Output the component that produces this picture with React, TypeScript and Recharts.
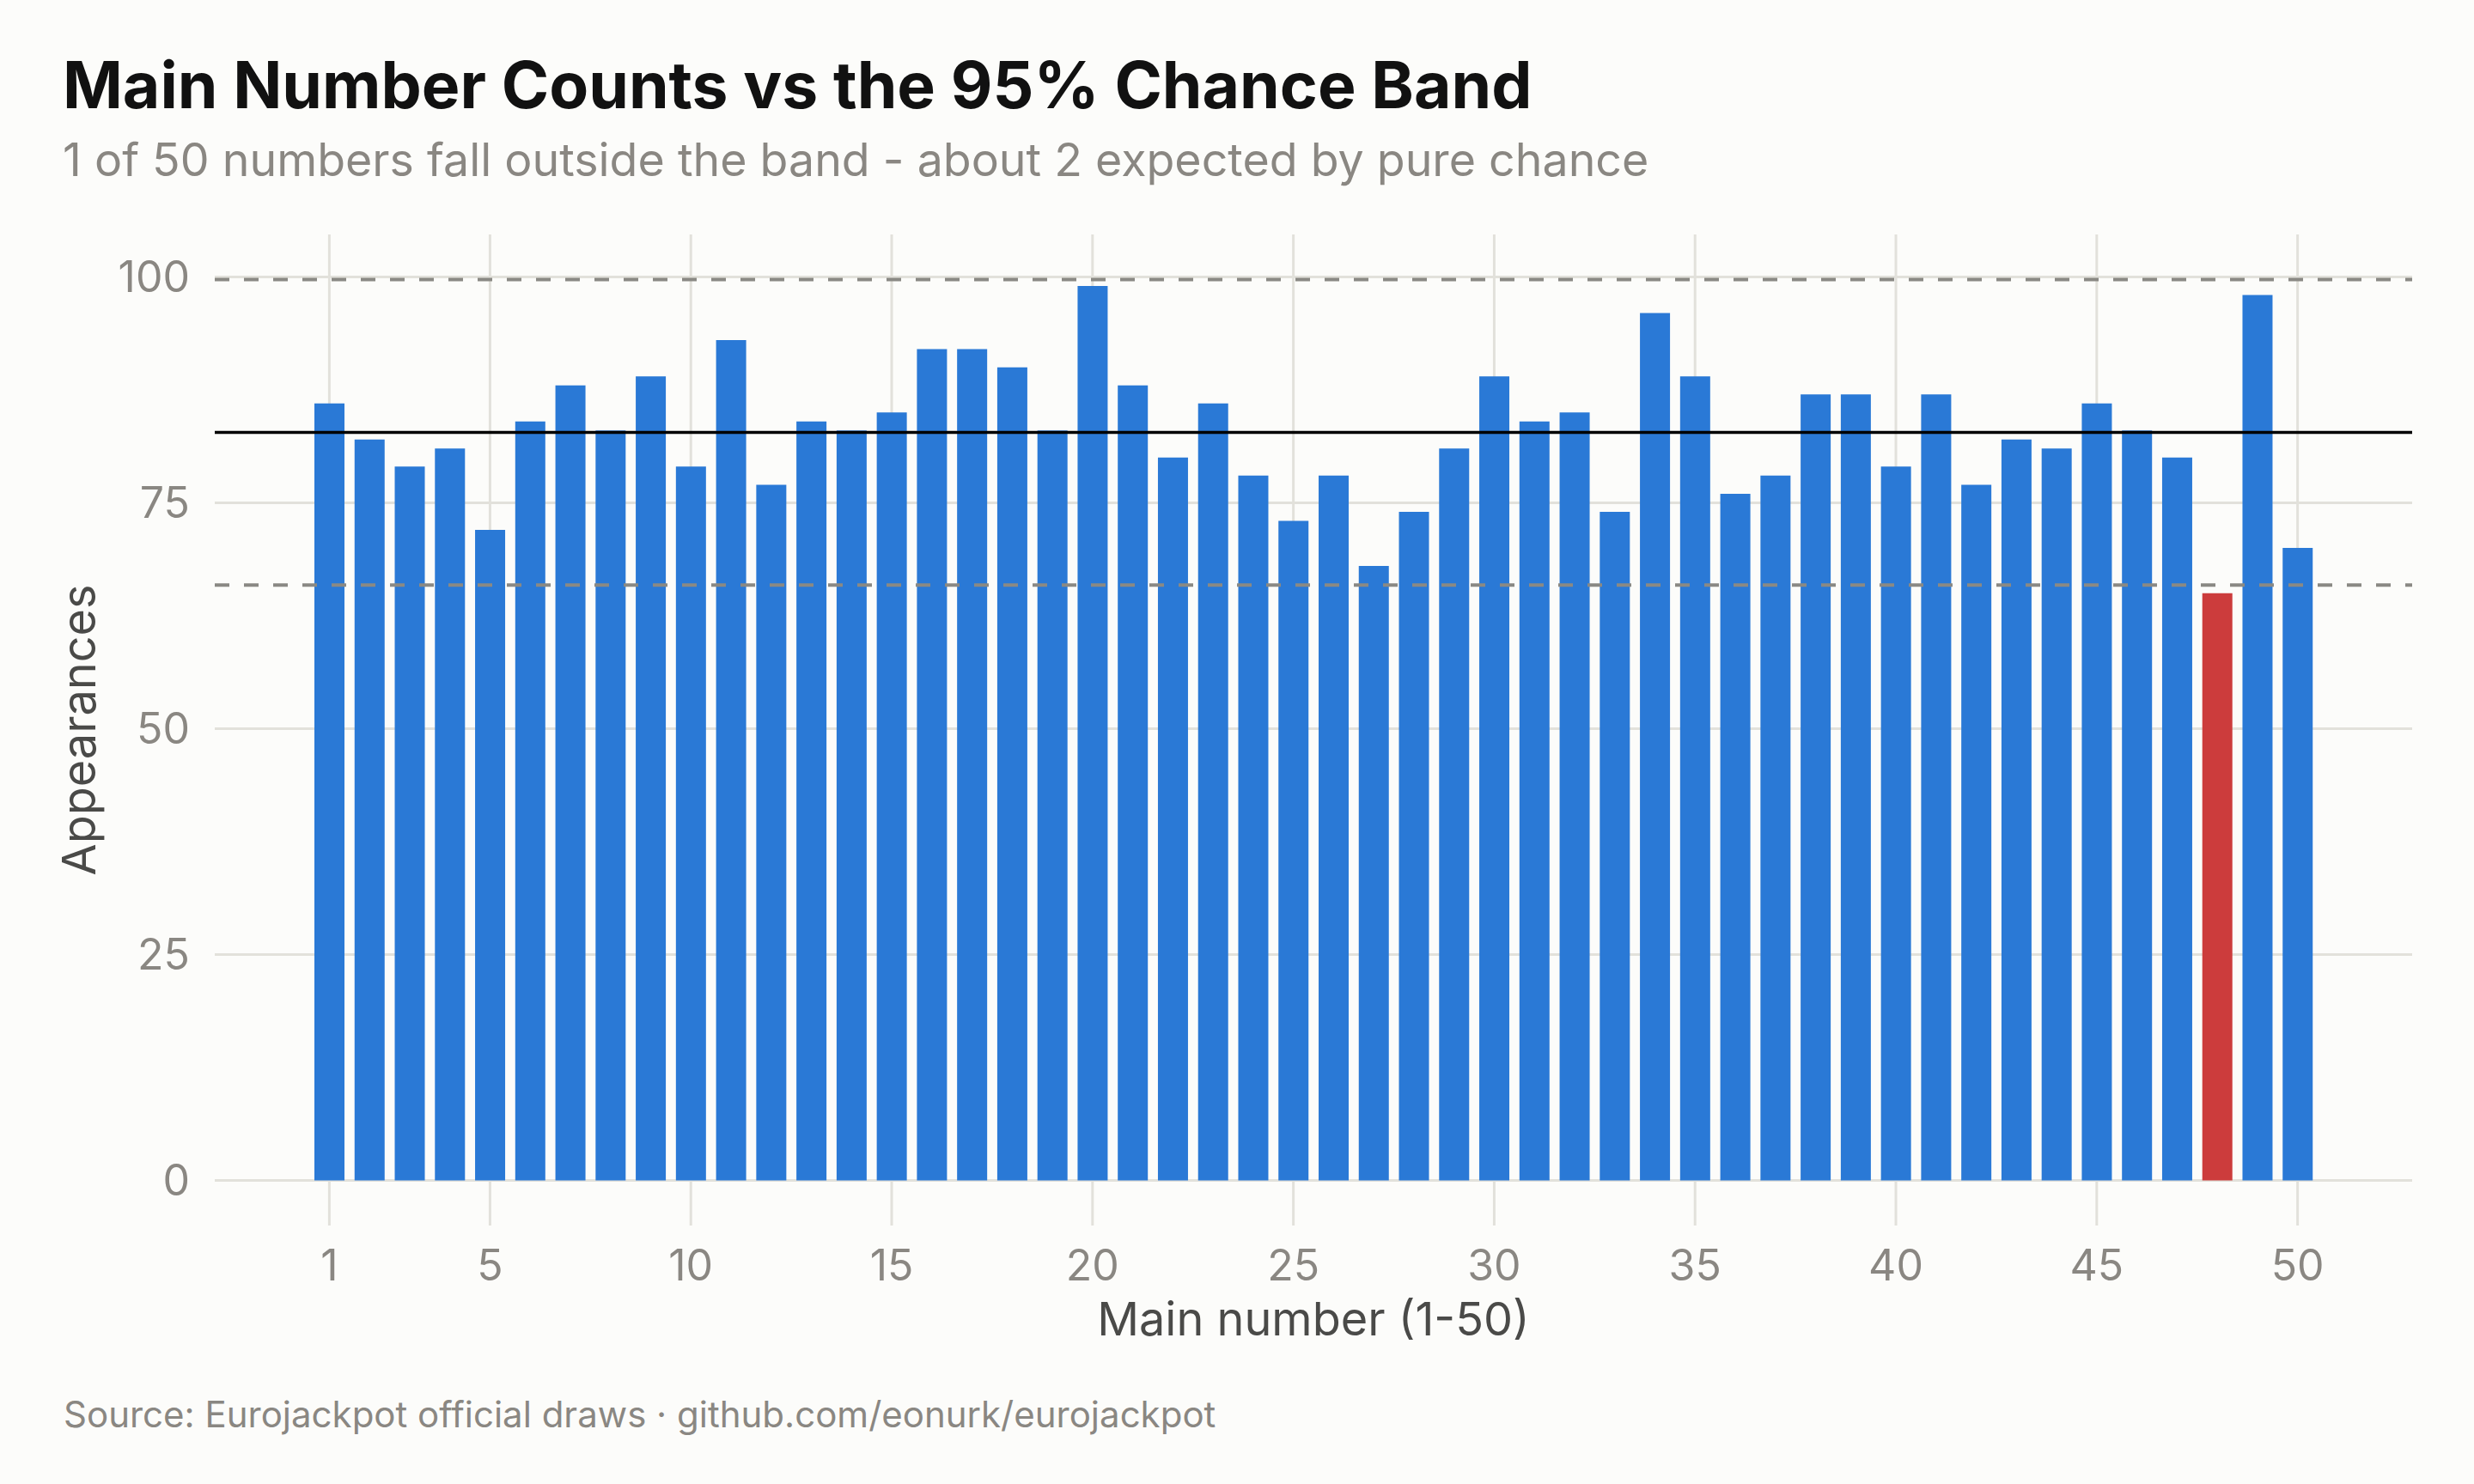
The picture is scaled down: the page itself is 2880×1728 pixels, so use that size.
import {
  ComposedChart,
  Bar,
  Cell,
  XAxis,
  YAxis,
  CartesianGrid,
  ReferenceLine,
  Label,
} from "recharts";

// main numbers 1-50
const numbers = [
  1, 2, 3, 4, 5, 6, 7, 8, 9, 10, 11, 12, 13, 14, 15, 16, 17, 18, 19, 20, 21, 22, 23, 24, 25,
  26, 27, 28, 29, 30, 31, 32, 33, 34, 35, 36, 37, 38, 39, 40, 41, 42, 43, 44, 45, 46, 47, 48,
  49, 50,
];

const appearances = [
  86, 82, 79, 81, 72, 84, 88, 83, 89, 79, 93, 77, 84, 83, 85, 92, 92, 90, 83, 99, 88, 80, 86, 78,
  73, 78, 68, 74, 81, 89, 84, 85, 74, 96, 89, 76, 78, 87, 87, 79, 87, 77, 82, 81, 86, 83, 80, 65,
  98, 70,
];

const xTicks = [1, 5, 10, 15, 20, 25, 30, 35, 40, 45, 50];
const yTicks = [0, 25, 50, 75, 100];

// expected count and 95% band
const bandLow = 65.9;
const expected = 82.8;
const bandHigh = 99.7;

const data = numbers.map((n, i) => ({ n, count: appearances[i] }));

const font = "Inter, 'Noto Sans', sans-serif";
const tickStyle = { fontSize: 50, fill: "#8a8782", fontFamily: font };
const axisTitle = { fontSize: 54, fill: "#4a4a48", fontFamily: font };

export default function App() {
  return (
    <div
      style={{
        position: "absolute",
        top: 0,
        left: 0,
        width: 2880,
        height: 1728,
        background: "#fcfcfa",
        fontFamily: font,
      }}
    >
      <div
        style={{
          position: "absolute",
          left: 73,
          top: 61,
          fontSize: 75,
          lineHeight: 1,
          fontWeight: 700,
          color: "#111111",
          whiteSpace: "nowrap",
        }}
      >
        Main Number Counts vs the 95% Chance Band
      </div>
      <div
        style={{
          position: "absolute",
          left: 73,
          top: 159,
          fontSize: 53.7,
          lineHeight: 1,
          color: "#8a8782",
          whiteSpace: "nowrap",
        }}
      >
        1 of 50 numbers fall outside the band - about 2 expected by pure chance
      </div>

      <ComposedChart
        width={2880}
        height={1728}
        data={data}
        margin={{ top: 273, right: 72, bottom: 141, left: 0 }}
        barSize={35}
      >
        <CartesianGrid stroke="#e2e1db" strokeWidth={3} syncWithTicks />
        <XAxis
          dataKey="n"
          type="category"
          ticks={xTicks}
          interval={0}
          padding={{ left: 110, right: 110 }}
          axisLine={false}
          tickLine={false}
          tickSize={0}
          tickMargin={28}
          height={160}
          tick={tickStyle}
        >
          <Label value="Main number (1-50)" position="insideBottom" offset={32} style={axisTitle} />
        </XAxis>
        <YAxis
          type="number"
          domain={[-5, 104.7]}
          ticks={yTicks}
          interval={0}
          axisLine={false}
          tickLine={false}
          tickSize={0}
          tickMargin={29}
          width={250}
          tick={tickStyle}
        >
          <Label
            value="Appearances"
            angle={-90}
            position="insideLeft"
            offset={92}
            style={{ ...axisTitle, textAnchor: "middle" }}
          />
        </YAxis>
        <Bar dataKey="count" isAnimationActive={false}>
          {data.map((d) => (
            <Cell
              key={d.n}
              fill={d.count < bandLow || d.count > bandHigh ? "#cc3c3c" : "#2a79d6"}
            />
          ))}
        </Bar>
        <ReferenceLine y={bandHigh} stroke="#8a8984" strokeWidth={4} strokeDasharray="17 17" />
        <ReferenceLine y={expected} stroke="#000000" strokeWidth={3.5} />
        <ReferenceLine y={bandLow} stroke="#8a8984" strokeWidth={4} strokeDasharray="17 17" />
      </ComposedChart>

      <div
        style={{
          position: "absolute",
          left: 74,
          top: 1626,
          fontSize: 42,
          lineHeight: 1,
          color: "#8a8782",
          whiteSpace: "nowrap",
        }}
      >
        Source: Eurojackpot official draws · github.com/eonurk/eurojackpot
      </div>
    </div>
  );
}
